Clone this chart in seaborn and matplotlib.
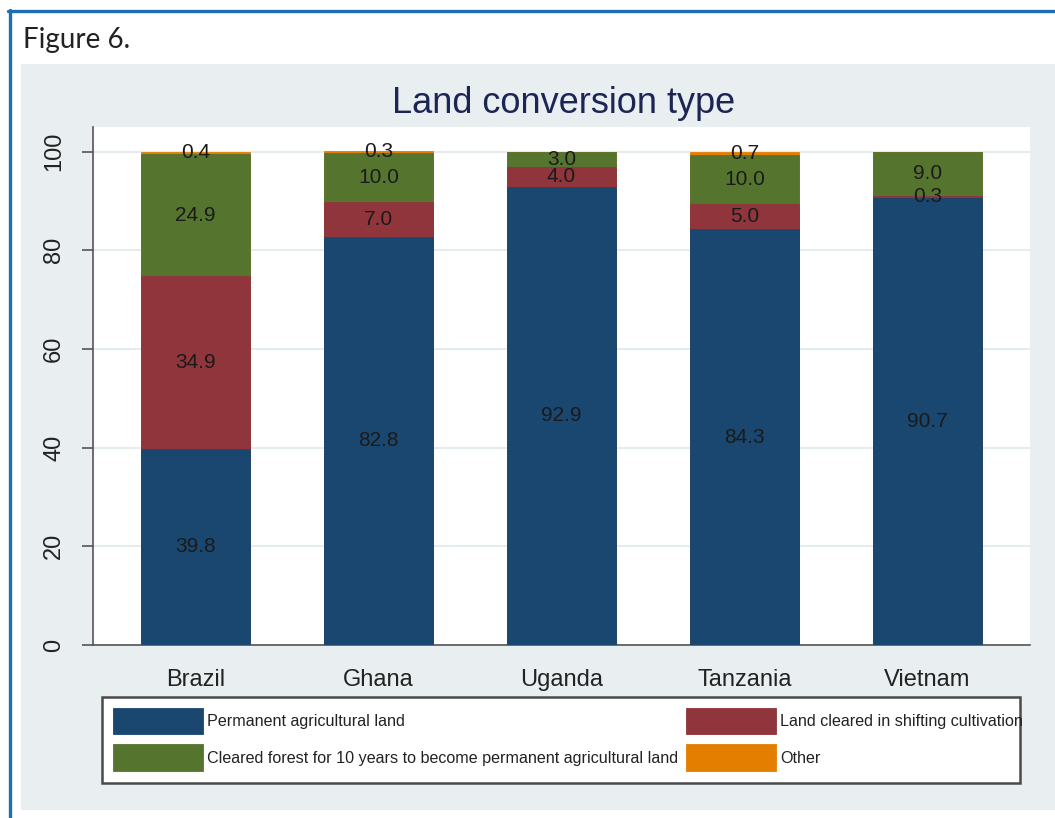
import matplotlib
matplotlib.use("Agg")
import matplotlib.pyplot as plt
from matplotlib.patches import Rectangle, Patch
from matplotlib.lines import Line2D
import numpy as np
import pandas as pd
import seaborn as sns

# Survey shares (%) of land conversion type by country
countries = ["Brazil", "Ghana", "Uganda", "Tanzania", "Vietnam"]
permanent = [39.8, 82.8, 92.9, 84.3, 90.7]
shifting = [34.9, 7.0, 4.0, 5.0, 0.3]
cleared_forest = [24.9, 10.0, 3.0, 10.0, 9.0]
other = [0.4, 0.3, 0.0, 0.7, 0.0]

series_names = [
    "Permanent agricultural land",
    "Land cleared in shifting cultivation",
    "Cleared forest for 10 years to become permanent agricultural land",
    "Other",
]
series_values = [permanent, shifting, cleared_forest, other]
series_colors = ["#1a476f", "#90353b", "#55752f", "#e37e00"]
y_ticks = [0, 20, 40, 60, 80, 100]

sns.set_theme(style="white")
plt.rcParams["font.family"] = ["Liberation Sans", "DejaVu Sans"]

W, H = 1055, 818
fig = plt.figure(figsize=(W / 100, H / 100), dpi=100)
fig.patch.set_facecolor("white")

def fx(px):
    return px / W

def fy(py):
    return 1 - py / H

# Page frame: blue rule on top and left, light grey graph region
fig.add_artist(Line2D([fx(8), 1.0], [fy(11), fy(11)], color="#1a6fb5", lw=2.4,
                      transform=fig.transFigure))
fig.add_artist(Line2D([fx(10), fx(10)], [fy(9.8), 0.0], color="#1a6fb5", lw=2.4,
                      transform=fig.transFigure))
fig.add_artist(Rectangle((fx(21), fy(810)), 1.0 - fx(21), fy(64) - fy(810),
                         transform=fig.transFigure, facecolor="#e9eef1",
                         edgecolor="none", zorder=0))

fig.text(fx(23), fy(48), "Figure 6.", family=["Lato", "DejaVu Sans"],
         fontsize=20, color="#222222", va="baseline", ha="left")

ax = fig.add_axes([fx(93), fy(645), fx(1030) - fx(93), fy(127) - fy(645)])
ax.set_facecolor("white")
ax.set_zorder(2)

# Stacked bars: draw cumulative totals from the top layer down
df = pd.DataFrame({"country": countries})
cums = np.cumsum(np.array(series_values, dtype=float), axis=0)
for i in range(len(series_names) - 1, -1, -1):
    df["total"] = cums[i]
    sns.barplot(data=df, x="country", y="total", order=countries,
                color=series_colors[i], saturation=1, width=0.6,
                edgecolor=series_colors[i], linewidth=0.6, ax=ax, zorder=3)

# Segment value labels at the middle of each segment
for i, vals in enumerate(series_values):
    for j, v in enumerate(vals):
        if v <= 0:
            continue
        mid = cums[i][j] - v / 2
        ax.text(j, mid, f"{v:.1f}", ha="center", va="center",
                fontsize=15, color="#1a1a1a", zorder=5)

ax.set_xlim(-0.56, 4.56)
ax.set_ylim(0, 105)
ax.set_yticks(y_ticks)
ax.set_yticklabels([str(t) for t in y_ticks])
ax.set_xlabel("")
ax.set_ylabel("")
ax.yaxis.grid(True, color="#e4ecee", lw=1.4, zorder=0)
ax.set_axisbelow(True)

for side in ["top", "right"]:
    ax.spines[side].set_visible(False)
ax.spines["left"].set_color("#555555")
ax.spines["bottom"].set_color("#555555")
ax.spines["left"].set_linewidth(1.2)
ax.spines["bottom"].set_linewidth(1.2)

ax.tick_params(axis="y", which="major", left=True, length=8, width=1.2,
               color="#555555", labelsize=17, pad=12, labelcolor="#222222")
ax.tick_params(axis="x", bottom=False, labelsize=17, pad=11, labelcolor="#222222")
for lab in ax.get_yticklabels():
    lab.set_rotation(90)
    lab.set_va("center")
    lab.set_ha("right")

fig.text(fx(564), fy(113), "Land conversion type", ha="center", va="baseline",
         fontsize=26, color="#1c2654")

# Legend box below the plot
fig.add_artist(Rectangle((fx(102), fy(783)), fx(1020) - fx(102), fy(697) - fy(783),
                         transform=fig.transFigure, facecolor="white",
                         edgecolor="#4a4a4a", lw=1.8, zorder=1))
handles = [Patch(facecolor=c, edgecolor=c, lw=0.6) for c in series_colors]
order = [0, 2, 1, 3]
leg = fig.legend([handles[k] for k in order], [series_names[k] for k in order],
                 ncol=2, loc="upper left", bbox_to_anchor=(fx(113), fy(708)),
                 frameon=False, fontsize=11.6, handlelength=5.6, handleheight=2.15,
                 handletextpad=0.25, columnspacing=0.45, labelspacing=0.62,
                 borderpad=0, borderaxespad=0)
leg.set_zorder(3)
for t in leg.get_texts():
    t.set_color("#222222")

fig.savefig("out.png", dpi=100, facecolor=fig.get_facecolor())
